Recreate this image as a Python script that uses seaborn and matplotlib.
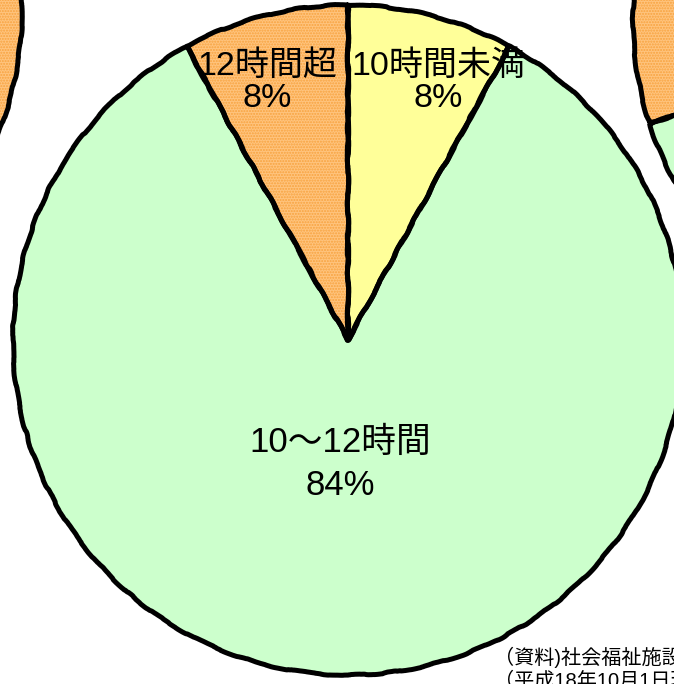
import matplotlib
matplotlib.use("Agg")
import matplotlib.pyplot as plt
import seaborn as sns

# -----------------------------------------------------------------------------
# Data (share of facilities by opening hours)
# -----------------------------------------------------------------------------
categories   = ["10時間未満", "10～12時間", "12時間超"]
main_shares  = [8, 84, 8]
main_labels  = ["10時間未満\n8%", "10～12時間\n84%", "12時間超\n8%"]

# neighbouring pies, only partly inside the frame
left_shares  = [5, 15, 80]
right_shares = [10, 60, 30]

source_lines = ["（資料)社会福祉施設等調査", "（平成18年10月1日現在)"]

# -----------------------------------------------------------------------------
# Style
# -----------------------------------------------------------------------------
COLORS     = ["#FFFF99", "#CCFFCC", "#FFC47E"]
HATCH_EDGE = "#F7A23E"
RADIUS     = 335
EDGE_W     = 3.6

sns.set_theme(style="white")
plt.rcParams["font.family"] = ["Liberation Sans", "Noto Sans CJK JP", "DejaVu Sans"]
plt.rcParams["text.color"] = "black"
plt.rcParams["hatch.linewidth"] = 1.0

fig = plt.figure(figsize=(6.74, 6.84), dpi=100)
ax = fig.add_axes([0, 0, 1, 1])


def draw_pie(shares, center):
    kw = dict(colors=COLORS, startangle=90, counterclock=False,
              radius=RADIUS, center=center, frame=False)
    ax.pie(shares, wedgeprops=dict(linewidth=0), **kw)
    # dotted texture on the "12時間超" wedge
    wedges, _ = ax.pie(shares, wedgeprops=dict(linewidth=0, fill=False), **kw)
    for w in wedges[:-1]:
        w.set_visible(False)
    wedges[-1].set_hatch("......")
    wedges[-1].set_edgecolor(HATCH_EDGE)
    # black outlines on top
    wedges, _ = ax.pie(shares, wedgeprops=dict(linewidth=EDGE_W, edgecolor="black",
                                               facecolor="none"), **kw)
    for w in wedges:
        w.set_joinstyle("round")
        w.set_sketch_params(scale=0.7, length=90, randomness=10)


draw_pie(left_shares, (-313, 674))
draw_pie(right_shares, (968, 664))
draw_pie(main_shares, (348, 344))

# labels
ax.text(438, 602, main_labels[0], ha="center", va="center", fontsize=24.5, linespacing=1.05)
ax.text(340, 220, main_labels[1], ha="center", va="center", fontsize=25, linespacing=1.35)
ax.text(267, 602, main_labels[2], ha="center", va="center", fontsize=24.5, linespacing=1.05)

ax.text(494, 27, source_lines[0], ha="left", va="center", fontsize=14.5)
ax.text(494, 4, source_lines[1], ha="left", va="center", fontsize=14.5)

ax.set_xlim(0, 674)
ax.set_ylim(0, 684)
ax.set_aspect("equal")
ax.axis("off")

plt.savefig("out.png", dpi=100)
plt.close()
